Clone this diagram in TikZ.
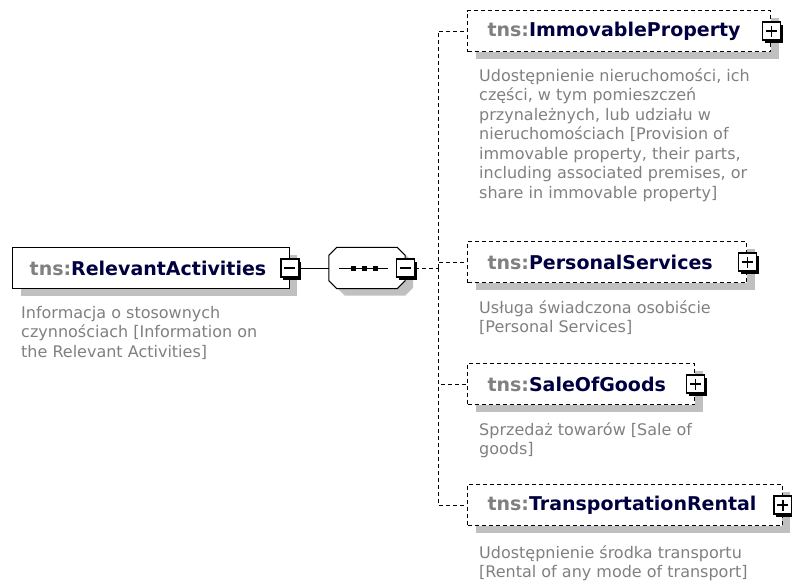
\documentclass[tikz,border=0pt]{standalone}
\usepackage{fontspec}
\setmainfont{DejaVu Sans}
\usetikzlibrary{shadows}

\definecolor{tnsgray}{RGB}{128,128,128}
\definecolor{namecol}{RGB}{0,0,64}
\definecolor{desccol}{RGB}{128,128,128}
\definecolor{shadecol}{RGB}{192,192,192}

\newcommand\tnslabel[1]{{\color{tnsgray}tns:}{\color{namecol}#1}}
% octagon round the sequence node, shifted by #2,#3
\newcommand\seqoutline[3]{%
  \path[#1] ([xshift=#2+8pt,yshift=#3]seq.north west) -- ([xshift=#2-8pt,yshift=#3]seq.north east)
    -- ([xshift=#2,yshift=#3-8pt]seq.north east) -- ([xshift=#2,yshift=#3+8pt]seq.south east)
    -- ([xshift=#2-8pt,yshift=#3]seq.south east) -- ([xshift=#2+8pt,yshift=#3]seq.south west)
    -- ([xshift=#2,yshift=#3+8pt]seq.south west) -- ([xshift=#2,yshift=#3-8pt]seq.north west) -- cycle;}

\tikzstyle{elem}=[draw, line width=1.4pt, fill=white, anchor=west, minimum height=41pt, inner ysep=0pt,
  font=\fontsize{19}{22}\selectfont\bfseries,
  drop shadow={shadow xshift=8pt, shadow yshift=-7pt, fill=shadecol, opacity=1}]
\tikzstyle{optelem}=[elem, line width=1pt, dash pattern=on 4pt off 3pt, inner xsep=20pt]
\tikzstyle{desc}=[anchor=north west, inner sep=0pt, align=left, text=desccol, font=\fontsize{16}{19.5}\selectfont]
\tikzstyle{btn}=[draw, line width=1.2pt, fill=white, minimum size=18pt, inner sep=0pt,
  drop shadow={shadow xshift=2.5pt, shadow yshift=-2.5pt, fill=black, opacity=1}]
\tikzstyle{minusbtn}=[btn, path picture={
  \draw[line width=1.2pt] ([xshift=3.5pt]path picture bounding box.west) -- ([xshift=-3.5pt]path picture bounding box.east);}]
\tikzstyle{plusbtn}=[btn, path picture={
  \draw[line width=1.2pt] ([xshift=3.5pt]path picture bounding box.west) -- ([xshift=-3.5pt]path picture bounding box.east);
  \draw[line width=1.2pt] ([yshift=-3.5pt]path picture bounding box.north) -- ([yshift=3.5pt]path picture bounding box.south);}]
\tikzstyle{seqbox}=[minimum width=76pt, minimum height=41pt, inner sep=0pt]
\tikzstyle{conn}=[line width=1pt, dash pattern=on 4pt off 3pt]

\begin{document}
\begin{tikzpicture}[x=1pt, y=-1pt]
    \useasboundingbox (0,0) rectangle (792,584);

    % root element
    \node[elem, inner xsep=17pt] (ra) at (12,268) {\tnslabel{RelevantActivities}\hspace*{6pt}};
    \node[minusbtn] (ramin) at (ra.east) {};
    \node[desc] (rad) at (21,306) {Informacja o stosownych\\czynnościach {[}Information on\\the Relevant Activities]};

    % sequence
    \node[seqbox] (seq) at (367,268) {};
    \seqoutline{fill=shadecol}{8pt}{-7pt}
    \seqoutline{draw, line width=1pt, fill=white}{0pt}{0pt}
    \node[minusbtn] (seqmin) at (seq.east) {};
    \coordinate (dots) at (364,268);
    \draw[line width=1pt] ([xshift=10pt]seq.west) -- ([xshift=-17pt]seq.east);
    \fill (dots) ++(-13.5,-2.5) rectangle ++(5,5);
    \fill (dots) ++(-2.5,-2.5) rectangle ++(5,5);
    \fill (dots) ++(8.5,-2.5) rectangle ++(5,5);

    % children
    \node[optelem] (ip) at (467,31) {\tnslabel{ImmovableProperty}\hspace*{10pt}};
    \node[plusbtn] (ipx) at (ip.east) {};
    \node[desc] (ipd) at (479,68) {Udostępnienie nieruchomości, ich\\części, w tym pomieszczeń\\przynależnych, lub udziału w\\nieruchomościach {[}Provision of\\immovable property, their parts,\\including associated premises, or\\share in immovable property]};

    \node[optelem] (ps) at (467,262) {\tnslabel{PersonalServices}\hspace*{14pt}};
    \node[plusbtn] (psx) at (ps.east) {};
    \node[desc] (psd) at (479,300) {Usługa świadczona osobiście\\{[}Personal Services]};

    \node[optelem] (sg) at (467,384) {\tnslabel{SaleOfGoods}\hspace*{9pt}};
    \node[plusbtn] (sgx) at (sg.east) {};
    \node[desc] (sgd) at (479,422) {Sprzedaż towarów {[}Sale of\\goods]};

    \node[optelem] (tr) at (467,505) {\tnslabel{TransportationRental}\hspace*{6pt}};
    \node[plusbtn] (trx) at (tr.east) {};
    \node[desc] (trd) at (479,545) {Udostępnienie środka transportu\\{[}Rental of any mode of transport]};

    \coordinate (fork) at (438,268);
    \draw[line width=1pt] (ramin.east) -- (seq.west);
    \draw[conn] (seqmin.east) -- (fork);
    \draw[conn] (fork) |- (ip.west);
    \draw[conn] (fork) |- (ps.west);
    \draw[conn] (fork) |- (sg.west);
    \draw[conn] (fork) |- (tr.west);
  \end{tikzpicture}
\end{document}
